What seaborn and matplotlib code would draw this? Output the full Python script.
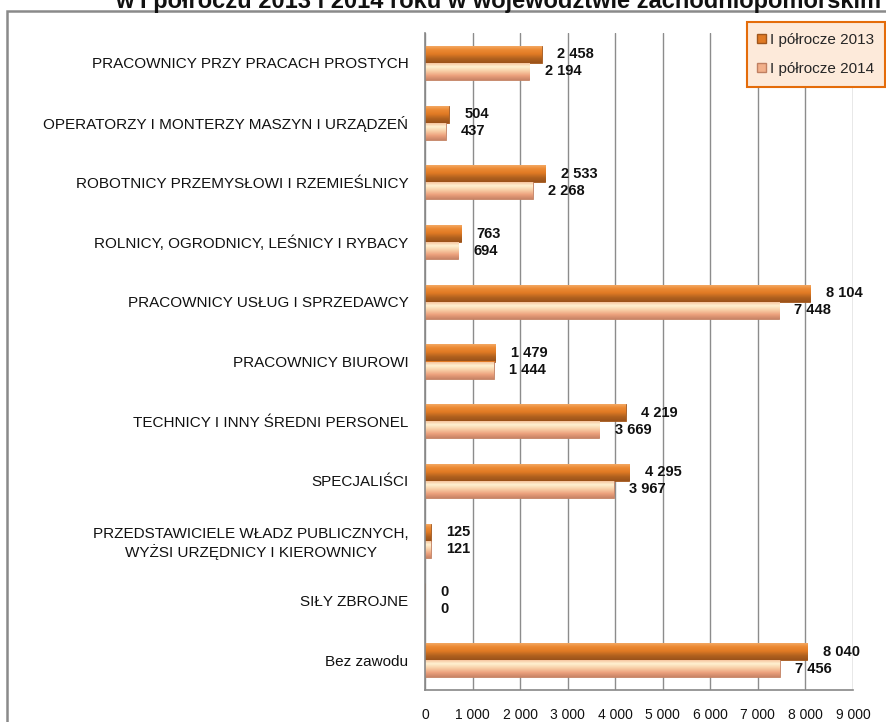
import numpy as np
import pandas as pd
import matplotlib
matplotlib.use("Agg")
import matplotlib.pyplot as plt
from matplotlib.colors import LinearSegmentedColormap
from matplotlib.patches import Rectangle
import seaborn as sns

categories = [
    "PRACOWNICY PRZY PRACACH PROSTYCH",
    "OPERATORZY I MONTERZY MASZYN I URZĄDZEŃ",
    "ROBOTNICY PRZEMYSŁOWI I RZEMIEŚLNICY",
    "ROLNICY, OGRODNICY, LEŚNICY I RYBACY",
    "PRACOWNICY USŁUG I SPRZEDAWCY",
    "PRACOWNICY BIUROWI",
    "TECHNICY I INNY ŚREDNI PERSONEL",
    "SPECJALIŚCI",
    "PRZEDSTAWICIELE WŁADZ PUBLICZNYCH,\nWYŻSI URZĘDNICY I KIEROWNICY",
    "SIŁY ZBROJNE",
    "Bez zawodu",
]
series_names = ["I półrocze 2013", "I półrocze 2014"]
values_2013 = [2458, 504, 2533, 763, 8104, 1479, 4219, 4295, 125, 0, 8040]
values_2014 = [2194, 437, 2268, 694, 7448, 1444, 3669, 3967, 121, 0, 7456]
x_ticks = [0, 1000, 2000, 3000, 4000, 5000, 6000, 7000, 8000, 9000]
title_text = "w I półroczu 2013 i 2014 roku w województwie zachodniopomorskim"

df = pd.DataFrame({
    "kategoria": categories * 2,
    "okres": [series_names[0]] * len(categories) + [series_names[1]] * len(categories),
    "wartosc": values_2013 + values_2014,
})

sns.set_theme(style="white")
plt.rcParams["font.family"] = ["Liberation Sans", "DejaVu Sans"]

W, H = 886, 722
fig = plt.figure(figsize=(W / 100, H / 100), dpi=100)
ax = fig.add_axes([425 / W, 1 - 690 / H, (853 - 425) / W, (690 - 33) / H])

c13 = "#E07A24"
c14 = "#F2B08A"
sns.barplot(data=df, y="kategoria", x="wartosc", hue="okres", order=categories,
            hue_order=series_names, palette=[c13, c14], orient="h",
            width=0.57, ax=ax, legend=False, saturation=1)

cm13 = LinearSegmentedColormap.from_list("c13", ["#F6B070", "#EC8A34", "#E07A24", "#B2621F", "#9A521A"])
cm14 = LinearSegmentedColormap.from_list("c14", ["#F4B890", "#FFF2D2", "#F8CFA6", "#EDA27E", "#C98466"])
grad = np.linspace(0, 1, 64).reshape(-1, 1)

for container, cmap, edge in zip(ax.containers, [cm13, cm14], ["#A0561C", "#C08062"]):
    for p in container.patches:
        x0, y0 = p.get_x(), p.get_y()
        w, h = p.get_width(), p.get_height()
        p.set_edgecolor(edge)
        p.set_linewidth(0.6)
        if w > 0:
            im = ax.imshow(grad, extent=[x0, x0 + w, y0 + h, y0], aspect="auto",
                           cmap=cmap, zorder=p.get_zorder() + 0.1, interpolation="bilinear")
            im.set_clip_path(p)
    ax.bar_label(container, labels=[f"{v:,.0f}".replace(",", " ") for v in container.datavalues],
                 padding=11, fontsize=10.5, fontweight="bold", color="#111111")

ax.set_xlim(0, 9000)
ax.set_ylim(len(categories) - 0.5, -0.5)
ax.set_xticks(x_ticks)
ax.set_xticklabels([f"{t:,}".replace(",", " ") for t in x_ticks], fontsize=10)
ax.set_xlabel("")
ax.set_ylabel("")
ax.set_yticks(range(len(categories)))
ax.set_yticklabels(categories, fontsize=11)
for lbl in ax.get_yticklabels():
    lbl.set_multialignment("center")
ax.set_yticks(np.arange(-0.5, len(categories), 1), minor=True)
ax.tick_params(axis="y", which="major", length=0, pad=12, colors="#111111")
ax.tick_params(axis="y", which="minor", length=5, color="#888888", direction="out")
ax.tick_params(axis="x", length=5, color="#888888", direction="out", pad=8)
for t in ax.get_xticklabels():
    t.set_color("#111111")

ax.grid(axis="x", color="#8C8C8C", linewidth=1)
ax.set_axisbelow(True)
for s in ["top", "right"]:
    ax.spines[s].set_visible(False)
for s in ["left", "bottom"]:
    ax.spines[s].set_color("#888888")
    ax.spines[s].set_linewidth(1.2)

# outer frame
fig.patches.append(Rectangle((7 / W, -0.01), (W + 5 - 7) / W, 1 - 11 / H + 0.01,
                             transform=fig.transFigure, fill=False,
                             edgecolor="#8A8A8A", linewidth=1.8, zorder=0))

# title (cropped at top, as in the source)
fig.text(498 / W, 1 - 8 / H, title_text, ha="center", va="baseline",
         fontsize=17, fontweight="bold", color="#111111")

handles = [Rectangle((0, 0), 1, 1, facecolor=c13, edgecolor="#A0561C"),
           Rectangle((0, 0), 1, 1, facecolor=c14, edgecolor="#C08062")]
leg = fig.legend(handles, series_names, loc="upper right",
                 bbox_to_anchor=(885 / W, 1 - 22 / H), fontsize=11,
                 handlelength=0.55, handleheight=0.55, handletextpad=0.3,
                 labelspacing=1.0, borderpad=0.7, borderaxespad=0,
                 frameon=True, fancybox=False)
leg.get_frame().set_facecolor("#FDEADA")
leg.get_frame().set_edgecolor("#E46C0A")
leg.get_frame().set_linewidth(1.5)
leg.get_frame().set_alpha(1)

fig.savefig("out.png", dpi=100)
